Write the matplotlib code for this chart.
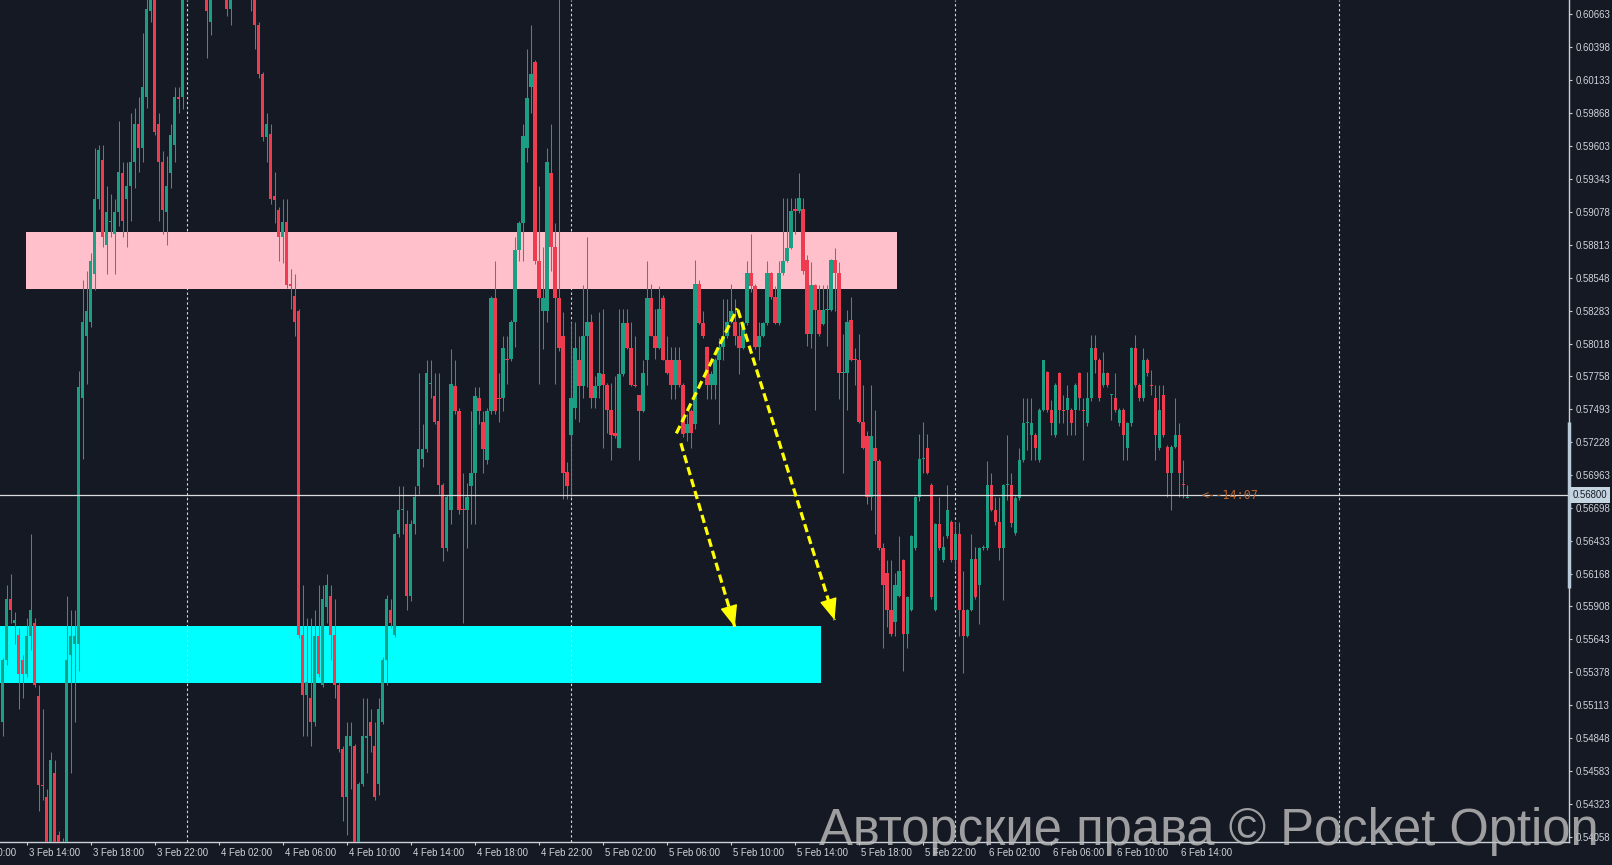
import matplotlib
matplotlib.use('Agg')
import matplotlib.pyplot as plt
import matplotlib.dates as mdates
import matplotlib.transforms as mtransforms
import numpy as np
import pandas as pd

plt.rcParams['font.family'] = ['Liberation Sans', 'DejaVu Sans']

# 15 minute candles, first one at 3 Feb 12:30
first_candle = '2025-02-03 12:30'

opens = [
    0.54977, 0.55473, 0.55968, 0.55774, 0.55675, 0.55473, 0.55365, 0.55667, 0.55774, 0.55184,
    0.54473, 0.54374, 0.53950, 0.54568, 0.54072, 0.53900, 0.54000, 0.55516, 0.55602, 0.55602,
    0.57585, 0.58080, 0.58188, 0.58576, 0.59179, 0.59494, 0.58813, 0.58994, 0.58899, 0.59072,
    0.59386, 0.59179, 0.59287, 0.59481, 0.59783, 0.59589, 0.60000, 0.60688, 0.61000, 0.59783,
    0.59481, 0.59072, 0.59386, 0.59610, 0.59998, 0.59998, 0.60900, 0.61050, 0.61120, 0.61000,
    0.61080, 0.60950, 0.60602, 0.60920, 0.61060, 0.60980, 0.60900, 0.60709, 0.60880, 0.61020,
    0.60960, 0.60920, 0.60860, 0.60830, 0.60580, 0.60184, 0.59675, 0.59705, 0.59201, 0.59093,
    0.58878, 0.58998, 0.58498, 0.58404, 0.58283, 0.55675, 0.55193, 0.55171, 0.54977, 0.55667,
    0.55279, 0.55904, 0.55990, 0.55675, 0.55279, 0.54761, 0.54374, 0.54783, 0.54783, 0.53950,
    0.54481, 0.54850, 0.54977, 0.54783, 0.54481, 0.54977, 0.55473, 0.55882, 0.55675, 0.56486,
    0.56680, 0.56572, 0.55990, 0.56572, 0.56873, 0.57089, 0.57175, 0.57692, 0.57598, 0.57399,
    0.56886, 0.56378, 0.56680, 0.57679, 0.57477, 0.56688, 0.56680, 0.56873, 0.56981, 0.57585,
    0.57391, 0.57080, 0.57477, 0.58382, 0.57585, 0.57585, 0.57895, 0.57895, 0.58188, 0.58770,
    0.58985, 0.59589, 0.60084, 0.60278, 0.58684, 0.58283, 0.58283, 0.59386, 0.58791, 0.58382,
    0.58080, 0.56990, 0.57283, 0.57498, 0.57886, 0.57679, 0.58080, 0.58188, 0.57585, 0.57679,
    0.57776, 0.57683, 0.57484, 0.57299, 0.57183, 0.57776, 0.58181, 0.57981, 0.57683, 0.57607,
    0.57478, 0.57883, 0.58381, 0.58083, 0.57981, 0.58381, 0.57889, 0.57889, 0.57683, 0.57889,
    0.57683, 0.57299, 0.57478, 0.57376, 0.58497, 0.58181, 0.57991, 0.57683, 0.57683, 0.57883,
    0.57991, 0.58083, 0.58190, 0.58190, 0.58083, 0.57981, 0.58181, 0.58583, 0.58482, 0.57991,
    0.58083, 0.58181, 0.58583, 0.58389, 0.58181, 0.58583, 0.58682, 0.58789, 0.59097, 0.59081,
    0.59096, 0.58687, 0.58095, 0.58489, 0.58292, 0.58179, 0.58292, 0.58292, 0.58687, 0.58588,
    0.57784, 0.57784, 0.58207, 0.57889, 0.57883, 0.57390, 0.57277, 0.56783, 0.57178, 0.57079,
    0.56374, 0.56177, 0.55881, 0.55782, 0.55994, 0.56276, 0.55683, 0.55881, 0.56374, 0.56783,
    0.57093, 0.57178, 0.56882, 0.55881, 0.56572, 0.56276, 0.56473, 0.56586, 0.56276, 0.56487,
    0.55881, 0.55669, 0.55881, 0.56290, 0.56078, 0.56374, 0.56374, 0.56882, 0.56685, 0.56586,
    0.56373, 0.56882, 0.56882, 0.56493, 0.56775, 0.57083, 0.57377, 0.57283, 0.57283, 0.57083,
    0.57484, 0.57792, 0.57484, 0.57283, 0.57779, 0.57484, 0.57484, 0.57484, 0.57484, 0.57779,
    0.57484, 0.57377, 0.57578, 0.57980, 0.57886, 0.57685, 0.57779, 0.57602, 0.57578, 0.57377,
    0.57484, 0.57176, 0.57377, 0.57980, 0.57685, 0.57578, 0.57886, 0.57685, 0.57578, 0.57176,
    0.57605, 0.57190, 0.56975, 0.57190, 0.57283, 0.56890, 0.56780,
]

highs = [
    0.55494, 0.56076, 0.56171, 0.55861, 0.55731, 0.55516, 0.55817, 0.56486, 0.55817, 0.55279,
    0.55085, 0.54438, 0.54740, 0.54675, 0.54100, 0.54050, 0.55990, 0.55882, 0.55882, 0.57800,
    0.58533, 0.58598, 0.58748, 0.59589, 0.59610, 0.59610, 0.59287, 0.59222, 0.59179, 0.59804,
    0.59481, 0.59481, 0.59869, 0.59912, 0.59998, 0.60515, 0.60800, 0.61100, 0.61150, 0.59869,
    0.59567, 0.59524, 0.59783, 0.60084, 0.60084, 0.61050, 0.61150, 0.61250, 0.61200, 0.61180,
    0.61150, 0.61000, 0.61000, 0.61180, 0.61140, 0.61040, 0.60960, 0.60960, 0.61120, 0.61100,
    0.61040, 0.60980, 0.60940, 0.60900, 0.60600, 0.60200, 0.59869, 0.59783, 0.59395, 0.59115,
    0.59179, 0.59179, 0.58619, 0.58576, 0.58300, 0.56076, 0.55817, 0.55817, 0.55882, 0.56076,
    0.56076, 0.56171, 0.56076, 0.55968, 0.55300, 0.54783, 0.54977, 0.54977, 0.54800, 0.54500,
    0.55171, 0.55171, 0.55085, 0.54977, 0.55171, 0.55500, 0.56000, 0.55968, 0.56500, 0.56873,
    0.56873, 0.56680, 0.56600, 0.56873, 0.57779, 0.57369, 0.57886, 0.57886, 0.57779, 0.57779,
    0.56895, 0.56800, 0.57972, 0.57886, 0.57500, 0.56981, 0.56895, 0.57477, 0.57671, 0.57671,
    0.57477, 0.57500, 0.58400, 0.58684, 0.57779, 0.58080, 0.58080, 0.58210, 0.58878, 0.59000,
    0.59783, 0.60386, 0.60580, 0.60300, 0.59287, 0.58791, 0.59589, 0.59783, 0.58985, 0.60900,
    0.58274, 0.57067, 0.58188, 0.58188, 0.58080, 0.58490, 0.58878, 0.58253, 0.57757, 0.58274,
    0.58298, 0.57699, 0.57699, 0.57760, 0.58298, 0.58298, 0.58298, 0.58190, 0.58083, 0.57607,
    0.57883, 0.58682, 0.58497, 0.58298, 0.58482, 0.58405, 0.58083, 0.57991, 0.57991, 0.57991,
    0.57700, 0.57453, 0.57490, 0.58688, 0.58528, 0.58282, 0.58000, 0.57800, 0.57900, 0.58067,
    0.58375, 0.58375, 0.58497, 0.58375, 0.58190, 0.58190, 0.58682, 0.58897, 0.58497, 0.58190,
    0.58190, 0.58682, 0.58590, 0.58482, 0.58682, 0.59189, 0.59189, 0.59189, 0.59189, 0.59390,
    0.59189, 0.58729, 0.58673, 0.58500, 0.58489, 0.58489, 0.58489, 0.58700, 0.58785, 0.58673,
    0.58095, 0.58292, 0.58391, 0.57982, 0.58095, 0.57686, 0.57319, 0.57686, 0.57488, 0.57093,
    0.56417, 0.56276, 0.56276, 0.56177, 0.56473, 0.56290, 0.55990, 0.56480, 0.56790, 0.57291,
    0.57390, 0.57291, 0.56900, 0.56580, 0.56783, 0.56473, 0.56882, 0.56600, 0.56586, 0.56586,
    0.56191, 0.55890, 0.56487, 0.56388, 0.56388, 0.56400, 0.57079, 0.56981, 0.56783, 0.56783,
    0.56890, 0.57283, 0.56975, 0.56790, 0.57176, 0.57578, 0.57578, 0.57578, 0.57297, 0.57500,
    0.57890, 0.57800, 0.57565, 0.57700, 0.57790, 0.57602, 0.57685, 0.57500, 0.57700, 0.57790,
    0.57578, 0.57792, 0.58087, 0.58087, 0.57900, 0.57953, 0.57790, 0.57610, 0.57779, 0.57500,
    0.57500, 0.57390, 0.57990, 0.58087, 0.57700, 0.57980, 0.57900, 0.57806, 0.57685, 0.57685,
    0.57685, 0.57200, 0.57200, 0.57578, 0.57377, 0.57083, 0.56882,
]

lows = [
    0.54869, 0.55440, 0.55774, 0.55602, 0.55085, 0.55171, 0.55343, 0.55559, 0.55257, 0.54266,
    0.54352, 0.53900, 0.53880, 0.53920, 0.53850, 0.53850, 0.53950, 0.54568, 0.54977, 0.55386,
    0.57089, 0.57692, 0.58150, 0.58447, 0.59100, 0.58791, 0.58576, 0.58878, 0.58576, 0.58964,
    0.58878, 0.58791, 0.59007, 0.59265, 0.59395, 0.59481, 0.59912, 0.60600, 0.59697, 0.59007,
    0.58899, 0.58813, 0.59265, 0.59481, 0.59869, 0.59900, 0.60850, 0.60980, 0.60920, 0.60940,
    0.60880, 0.60309, 0.60500, 0.60860, 0.60900, 0.60820, 0.60650, 0.60580, 0.60840, 0.60880,
    0.60860, 0.60800, 0.60688, 0.60386, 0.60150, 0.59650, 0.59481, 0.59136, 0.58985, 0.58684,
    0.58662, 0.58468, 0.58296, 0.58080, 0.55650, 0.54869, 0.54869, 0.54783, 0.54950, 0.55343,
    0.55257, 0.55774, 0.55473, 0.55171, 0.54740, 0.54180, 0.54072, 0.54438, 0.53900, 0.53880,
    0.54460, 0.54568, 0.54740, 0.54350, 0.54395, 0.54960, 0.55279, 0.55731, 0.55660, 0.56465,
    0.56486, 0.55882, 0.55950, 0.56486, 0.56809, 0.57024, 0.57150, 0.57585, 0.57369, 0.56809,
    0.56270, 0.56350, 0.56572, 0.57455, 0.56650, 0.55774, 0.56378, 0.56572, 0.56572, 0.57369,
    0.56981, 0.57050, 0.57450, 0.57450, 0.57391, 0.57477, 0.57692, 0.57880, 0.57994, 0.58684,
    0.58684, 0.59481, 0.59869, 0.58660, 0.57692, 0.57972, 0.58188, 0.58598, 0.57692, 0.57960,
    0.56766, 0.56766, 0.56787, 0.57412, 0.57391, 0.57585, 0.57671, 0.57498, 0.57498, 0.57585,
    0.57177, 0.57299, 0.57084, 0.57260, 0.57177, 0.57760, 0.57975, 0.57680, 0.57670, 0.57084,
    0.57470, 0.57683, 0.58080, 0.57898, 0.57975, 0.57883, 0.57776, 0.57576, 0.57576, 0.57670,
    0.57269, 0.57238, 0.57177, 0.57330, 0.58175, 0.58067, 0.57576, 0.57576, 0.57576, 0.57376,
    0.57883, 0.58067, 0.58180, 0.58006, 0.57776, 0.57975, 0.58170, 0.58436, 0.57975, 0.57883,
    0.58070, 0.58170, 0.58375, 0.58175, 0.58170, 0.58570, 0.58670, 0.58780, 0.58897, 0.59070,
    0.58580, 0.57996, 0.57982, 0.57488, 0.58080, 0.58170, 0.57996, 0.58278, 0.58278, 0.57573,
    0.56981, 0.57488, 0.57880, 0.57686, 0.57380, 0.57170, 0.56727, 0.56685, 0.56487, 0.56360,
    0.55571, 0.55740, 0.55669, 0.55669, 0.55980, 0.55387, 0.55571, 0.55870, 0.56360, 0.56755,
    0.56981, 0.56970, 0.55970, 0.55870, 0.56360, 0.56260, 0.56460, 0.56262, 0.56191, 0.55669,
    0.55373, 0.55660, 0.55870, 0.55970, 0.55768, 0.56360, 0.56360, 0.56670, 0.56558, 0.56276,
    0.55958, 0.56761, 0.56547, 0.56480, 0.56760, 0.57070, 0.57163, 0.57083, 0.57083, 0.57070,
    0.57480, 0.57470, 0.57283, 0.57270, 0.57377, 0.57377, 0.57283, 0.57283, 0.57283, 0.57484,
    0.57083, 0.57360, 0.57560, 0.57779, 0.57560, 0.57670, 0.57670, 0.57404, 0.57470, 0.57360,
    0.57083, 0.57083, 0.57360, 0.57670, 0.57560, 0.57560, 0.57760, 0.57602, 0.57083, 0.57160,
    0.57270, 0.56788, 0.56681, 0.57180, 0.56788, 0.56775, 0.56775,
]

closes = [
    0.55473, 0.55968, 0.55882, 0.55796, 0.55365, 0.55365, 0.55667, 0.55882, 0.55279, 0.54473,
    0.54460, 0.53950, 0.54675, 0.53980, 0.53900, 0.54000, 0.55473, 0.55667, 0.55667, 0.57671,
    0.58188, 0.58283, 0.58684, 0.59179, 0.59576, 0.58878, 0.59072, 0.58999, 0.59072, 0.59395,
    0.59007, 0.59287, 0.59481, 0.59783, 0.59589, 0.60084, 0.60709, 0.60950, 0.59718, 0.59481,
    0.59093, 0.59287, 0.59697, 0.59998, 0.59980, 0.60900, 0.61050, 0.61120, 0.61000, 0.61080,
    0.60950, 0.60688, 0.60920, 0.61060, 0.60980, 0.60900, 0.60709, 0.60880, 0.61020, 0.60960,
    0.60920, 0.60860, 0.60830, 0.60580, 0.60184, 0.59675, 0.59783, 0.59179, 0.59171, 0.58878,
    0.58998, 0.58490, 0.58481, 0.58188, 0.55675, 0.55193, 0.55300, 0.54977, 0.55667, 0.55365,
    0.55968, 0.56076, 0.55675, 0.55279, 0.54761, 0.54374, 0.54869, 0.54869, 0.53950, 0.54481,
    0.54869, 0.54869, 0.54869, 0.54374, 0.55085, 0.55473, 0.55968, 0.55774, 0.56486, 0.56680,
    0.56690, 0.55990, 0.56572, 0.56787, 0.57175, 0.57175, 0.57779, 0.57700, 0.57391, 0.56886,
    0.56378, 0.56787, 0.57692, 0.57477, 0.56680, 0.56680, 0.56787, 0.56981, 0.57598, 0.57477,
    0.57175, 0.57477, 0.58382, 0.57477, 0.57576, 0.57981, 0.57890, 0.58188, 0.58770, 0.58985,
    0.59684, 0.59990, 0.60184, 0.58684, 0.58382, 0.58382, 0.59481, 0.58791, 0.58382, 0.57981,
    0.56981, 0.56873, 0.57585, 0.57981, 0.57679, 0.58080, 0.58188, 0.57585, 0.57679, 0.57779,
    0.57683, 0.57484, 0.57284, 0.57275, 0.57776, 0.58181, 0.57981, 0.57683, 0.57680, 0.57478,
    0.57785, 0.58381, 0.58083, 0.57981, 0.58298, 0.57889, 0.57785, 0.57683, 0.57889, 0.57683,
    0.57290, 0.57376, 0.57299, 0.58497, 0.58181, 0.58083, 0.57683, 0.57776, 0.57883, 0.57991,
    0.58083, 0.58190, 0.58282, 0.58083, 0.57981, 0.58181, 0.58583, 0.58482, 0.57991, 0.58083,
    0.58181, 0.58583, 0.58389, 0.58181, 0.58583, 0.58682, 0.58789, 0.59081, 0.59081, 0.59189,
    0.58602, 0.58095, 0.58489, 0.58292, 0.58095, 0.58292, 0.58300, 0.58687, 0.58588, 0.57784,
    0.57790, 0.58193, 0.57883, 0.57883, 0.57390, 0.57178, 0.56783, 0.57277, 0.57079, 0.56374,
    0.56078, 0.55881, 0.55683, 0.56078, 0.56191, 0.55683, 0.55980, 0.56473, 0.56783, 0.57093,
    0.57100, 0.56981, 0.55980, 0.56572, 0.56374, 0.56388, 0.56685, 0.56276, 0.56487, 0.55881,
    0.55669, 0.55881, 0.56290, 0.55980, 0.56374, 0.56388, 0.56882, 0.56685, 0.56586, 0.56374,
    0.56882, 0.56890, 0.56574, 0.56775, 0.57083, 0.57377, 0.57380, 0.57377, 0.57176, 0.57484,
    0.57886, 0.57484, 0.57377, 0.57685, 0.57484, 0.57480, 0.57578, 0.57377, 0.57685, 0.57578,
    0.57480, 0.57578, 0.57980, 0.57886, 0.57578, 0.57779, 0.57685, 0.57605, 0.57484, 0.57484,
    0.57283, 0.57377, 0.57980, 0.57685, 0.57578, 0.57886, 0.57779, 0.57680, 0.57283, 0.57484,
    0.57283, 0.56975, 0.57190, 0.57283, 0.56975, 0.56882, 0.56783,
]

y_tick_values = [0.60663, 0.60398, 0.60133, 0.59868, 0.59603, 0.59343, 0.59078, 0.58813,
                 0.58548, 0.58283, 0.58018, 0.57758, 0.57493, 0.57228, 0.56963, 0.56698,
                 0.56433, 0.56168, 0.55908, 0.55643, 0.55378, 0.55113, 0.54848, 0.54583,
                 0.54323, 0.54058]
x_tick_labels = ['3 Feb 14:00', '3 Feb 18:00', '3 Feb 22:00', '4 Feb 02:00', '4 Feb 06:00',
                 '4 Feb 10:00', '4 Feb 14:00', '4 Feb 18:00', '4 Feb 22:00', '5 Feb 02:00',
                 '5 Feb 06:00', '5 Feb 10:00', '5 Feb 14:00', '5 Feb 18:00', '5 Feb 22:00',
                 '6 Feb 02:00', '6 Feb 06:00', '6 Feb 10:00', '6 Feb 14:00']
cut_label = '3 Feb 10:00'
day_breaks = ['2025-02-04', '2025-02-05', '2025-02-06', '2025-02-07']

current_price = 0.56800
timer_text = '<--14:07'
day_range = (0.56054, 0.57392)

# zones: start, end, low, high
resistance_zone = ('2025-02-03 13:56', '2025-02-05 20:23', 0.58457, 0.58912)
support_zone = ('2025-02-03 11:00', '2025-02-05 15:38', 0.55294, 0.55748)

# yellow dashed arrows: start time, start price, end time, end price
up_leg = ('2025-02-05 06:35', 0.57297, '2025-02-05 10:24', 0.58301)
arrow_first = ('2025-02-05 06:52', 0.57218, '2025-02-05 10:14', 0.55743)
arrow_second = ('2025-02-05 10:26', 0.58288, '2025-02-05 16:28', 0.55798)

bg = '#151923'
green = '#1b9e83'
red = '#ef3b4f'
text_col = '#cfd3da'
axis_col = '#c9d1d9'
yellow = '#ffff00'


def num(s):
    return mdates.date2num(pd.Timestamp(s))


def label_time(s):
    return num(pd.to_datetime('2025 ' + s, format='%Y %d %b %H:%M'))


o = np.array(opens)
h = np.array(highs)
l = np.array(lows)
c = np.array(closes)
x = mdates.date2num(pd.date_range(first_candle, periods=len(c), freq='15min'))
step = 15 / 1440.0

fig = plt.figure(figsize=(16.12, 8.65), dpi=100, facecolor=bg)
ax = fig.add_axes([0, 23 / 865, 1569 / 1612, 842 / 865])
ax.set_facecolor(bg)

# zones
for zone, col in [(resistance_zone, '#ffc0cb'), (support_zone, '#00ffff')]:
    ax.fill_between([num(zone[0]), num(zone[1])], zone[2], zone[3], color=col, lw=0, zorder=1)

# day separators
for d in day_breaks:
    ax.axvline(num(d), color='#d4d4d4', lw=0.8, dashes=(2.2, 2.2), zorder=1.5)

# candles
up = c >= o
body_col = np.where(up, green, red)
body_h = np.maximum(np.abs(c - o), 0.00008)
ax.vlines(x, l, h, color=green, lw=0.75, zorder=2)
ax.bar(x, body_h, bottom=np.minimum(o, c), width=step * 0.82, color=body_col, lw=0, zorder=3)

# current price line
ax.axhline(current_price, color='#dcdcdc', lw=0.9, zorder=4)
ax.text(num('2025-02-06 15:25'), current_price, timer_text, color='#b8652f', fontsize=8.5,
        family='DejaVu Sans Mono', ha='left', va='center', zorder=5)


# arrows
def dashed_arrow(seg, head):
    x0, y0, x1, y1 = num(seg[0]), seg[1], num(seg[2]), seg[3]
    ax.plot([x0, x1], [y0, y1], color=yellow, lw=2.3, dashes=(2.6, 1.3),
            solid_capstyle='butt', zorder=6)
    if head:
        bx = x1 - 0.06 * (x1 - x0)
        by = y1 - 0.06 * (y1 - y0)
        ax.annotate('', xy=(x1, y1), xytext=(bx, by),
                    arrowprops=dict(arrowstyle='-|>,head_length=1.35,head_width=0.55',
                                    color=yellow, lw=1, shrinkA=0, shrinkB=0),
                    zorder=7)


dashed_arrow(up_leg, False)
dashed_arrow(arrow_first, True)
dashed_arrow(arrow_second, True)

ax.set_xlim(num('2025-02-03 12:20:20'), num('2025-02-07 14:20:24'))
ax.set_ylim(0.54014, 0.60779)

# axes styling
for side in ['left', 'top']:
    ax.spines[side].set_visible(False)
for side in ['right', 'bottom']:
    ax.spines[side].set_color(axis_col)
    ax.spines[side].set_linewidth(1.0)

ax.yaxis.tick_right()
ax.set_yticks(y_tick_values)
ax.set_yticklabels([f'{v:.5f}' for v in y_tick_values])
ax.tick_params(axis='y', direction='out', length=2.5, width=0.8, color=axis_col,
               labelcolor=text_col, labelsize=6.9, pad=2)

ax.set_xticks([label_time(s) for s in x_tick_labels])
ax.set_xticklabels(x_tick_labels)
ax.tick_params(axis='x', direction='out', length=2.5, width=0.8, color=axis_col,
               labelcolor=text_col, labelsize=6.9, pad=2)
shift = mtransforms.ScaledTranslation(1.5 / 72, 0, fig.dpi_scale_trans)
for lbl in ax.get_xticklabels():
    lbl.set_horizontalalignment('left')
    lbl.set_transform(lbl.get_transform() + shift)

below = mtransforms.blended_transform_factory(ax.transData, ax.transAxes)
ax.text(label_time(cut_label), 0, cut_label, color=text_col, fontsize=6.9, ha='left', va='top',
        clip_on=False,
        transform=below + mtransforms.ScaledTranslation(1.5 / 72, -4.5 / 72, fig.dpi_scale_trans))

# right axis extras: day range bar and current price tag
side_tr = mtransforms.blended_transform_factory(ax.transAxes, ax.transData)
ax.plot([1, 1], list(day_range), transform=side_tr, color='#b9cbd9', lw=2.5,
        solid_capstyle='butt', clip_on=False, zorder=8)
ax.text(1.0, current_price, f'{current_price:.5f}', transform=side_tr + mtransforms.ScaledTranslation(
    2.5 / 72, 0, fig.dpi_scale_trans), ha='left', va='center', fontsize=6.9, color=bg,
        bbox=dict(boxstyle='square,pad=0.3', fc='#c4d4e0', ec='none'), clip_on=False, zorder=9)

# watermark
fig.text(0.508, 0.023, 'Авторские права © Pocket Option', fontsize=36.5, color='#bdbdbd',
         alpha=0.82, ha='left', va='baseline', family='Liberation Sans')

fig.savefig('out.png', dpi=100, facecolor=bg)
